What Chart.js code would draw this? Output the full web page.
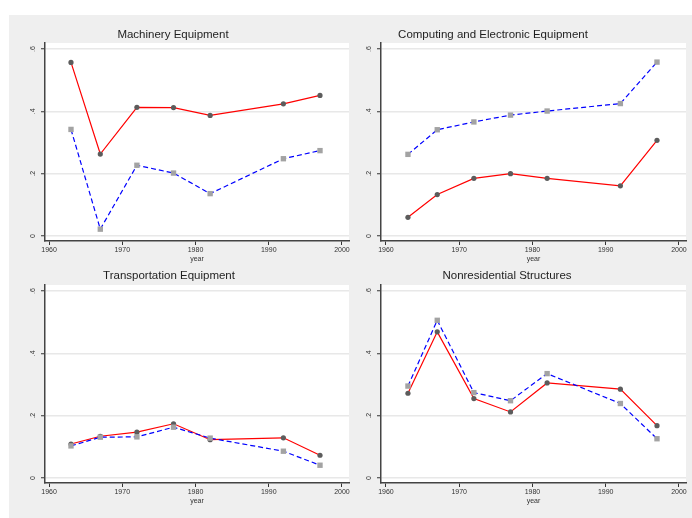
<!DOCTYPE html>
<html>
<head>
<meta charset="utf-8">
<script src="https://cdn.jsdelivr.net/npm/chart.js@4.4.1/dist/chart.umd.min.js"></script>
<style>
  html, body { margin: 0; padding: 0; background: #fff; }
  #page { position: relative; width: 692px; height: 518px; overflow: hidden; }
  #bg { position: absolute; left: 9px; top: 15px; right: 0; bottom: 0; background: #efefef; }
  canvas { position: absolute; left: 0; top: 0; }
</style>
</head>
<body>
<div id="page">
  <div id="bg"></div>
  <canvas id="c1" width="692" height="518"></canvas>
  <canvas id="c2" width="692" height="518"></canvas>
  <canvas id="c3" width="692" height="518"></canvas>
  <canvas id="c4" width="692" height="518"></canvas>
</div>
<script>
// --- DATA ---
const years = [1963, 1967, 1972, 1977, 1982, 1992, 1997];
const xTicks = [1960, 1970, 1980, 1990, 2000];
const yTicks = [0, 0.2, 0.4, 0.6];
const yTickLabels = ['0', '.2', '.4', '.6'];

const machineryRed = [0.557, 0.263, 0.413, 0.412, 0.387, 0.424, 0.451];
const machineryBlue = [0.342, 0.022, 0.227, 0.202, 0.136, 0.248, 0.274];

const computingRed = [0.060, 0.133, 0.185, 0.200, 0.185, 0.161, 0.307];
const computingBlue = [0.262, 0.341, 0.366, 0.388, 0.401, 0.425, 0.558];

const transportRed = [0.109, 0.134, 0.147, 0.174, 0.123, 0.129, 0.073];
const transportBlue = [0.103, 0.131, 0.132, 0.163, 0.128, 0.086, 0.041];

const structuresRed = [0.272, 0.469, 0.255, 0.212, 0.305, 0.285, 0.168];
const structuresBlue = [0.295, 0.506, 0.274, 0.248, 0.335, 0.239, 0.126];

// --- LAYOUT ---
const W = 692, H = 518;
const Y_AXIS_W = 20, X_AXIS_H = 24;
const FONT = '"Liberation Sans", Arial, Helvetica, sans-serif';

const panels = [
    { id: 'c1', title: 'Machinery Equipment', red: machineryRed, blue: machineryBlue,
      left: 45, right: 349, top: 43, bottom: 241, xMin: 1959.45, titleX: 173, titleY: 35 },
    { id: 'c2', title: 'Computing and Electronic Equipment', red: computingRed, blue: computingBlue,
      left: 381, right: 686, top: 43, bottom: 241, xMin: 1959.32, titleX: 493, titleY: 35 },
    { id: 'c3', title: 'Transportation Equipment', red: transportRed, blue: transportBlue,
      left: 45, right: 349, top: 285, bottom: 483, xMin: 1959.45, titleX: 169, titleY: 276 },
    { id: 'c4', title: 'Nonresidential Structures', red: structuresRed, blue: structuresBlue,
      left: 381, right: 686, top: 285, bottom: 483, xMin: 1959.32, titleX: 507, titleY: 276 },
];

// white plot region behind the lines
const plotBg = {
    id: 'plotBg',
    beforeDraw(chart) {
        const { ctx, chartArea: a } = chart;
        ctx.save();
        ctx.fillStyle = '#ffffff';
        ctx.fillRect(a.left, a.top, a.right - a.left, a.bottom - a.top);
        ctx.restore();
    }
};

// panel title placed like the original
const panelTitle = {
    id: 'panelTitle',
    afterDraw(chart, args, opts) {
        const ctx = chart.ctx;
        ctx.save();
        ctx.font = '11.5px ' + FONT;
        ctx.fillStyle = '#1e1e1e';
        ctx.textAlign = 'center';
        ctx.textBaseline = 'middle';
        ctx.fillText(opts.text, opts.x, opts.y);
        ctx.restore();
    }
};

function makeChart(p) {
    const toPoints = arr => years.map((yr, i) => ({ x: yr, y: arr[i] }));
    return new Chart(document.getElementById(p.id), {
        type: 'line',
        data: {
            datasets: [
                {
                    label: 'solid',
                    data: toPoints(p.red),
                    borderColor: '#ff0000',
                    borderWidth: 1.2,
                    pointStyle: 'circle',
                    pointRadius: 2.6,
                    pointBackgroundColor: '#5c5c5c',
                    pointBorderWidth: 0,
                    order: 2
                },
                {
                    label: 'dashed',
                    data: toPoints(p.blue),
                    borderColor: '#0000ff',
                    borderWidth: 1.2,
                    borderDash: [5, 3],
                    pointStyle: 'rect',
                    pointRadius: 3.8,
                    pointBackgroundColor: '#a3a3a3',
                    pointBorderWidth: 0,
                    order: 1
                }
            ]
        },
        options: {
            responsive: false,
            animation: false,
            devicePixelRatio: 1,
            layout: {
                padding: { left: p.left - Y_AXIS_W, right: W - p.right, top: p.top, bottom: H - p.bottom - X_AXIS_H }
            },
            elements: { line: { tension: 0, fill: false } },
            plugins: {
                legend: { display: false },
                tooltip: { enabled: false },
                panelTitle: { text: p.title, x: p.titleX, y: p.titleY }
            },
            scales: {
                x: {
                    type: 'linear',
                    min: p.xMin,
                    max: 2000.96,
                    afterBuildTicks: s => { s.ticks = xTicks.map(v => ({ value: v })); },
                    afterFit: s => { s.height = X_AXIS_H; },
                    grid: { drawOnChartArea: false, tickLength: 4, tickColor: '#333', tickWidth: 1 },
                    border: { color: '#444', width: 1.5 },
                    ticks: { autoSkip: false, maxRotation: 0, padding: 1, color: '#333',
                             font: { family: FONT, size: 7 }, callback: v => String(v) },
                    title: { display: true, text: 'year', color: '#333',
                             font: { family: FONT, size: 7 }, padding: { top: 0, bottom: 2 } }
                },
                y: {
                    min: -0.016,
                    max: 0.6193,
                    afterBuildTicks: s => { s.ticks = yTicks.map(v => ({ value: v })); },
                    afterFit: s => { s.width = Y_AXIS_W; },
                    grid: { color: '#e8e8e8', lineWidth: 1.5, tickLength: 4, tickColor: '#333', tickWidth: 1 },
                    border: { color: '#444', width: 1.5 },
                    ticks: { minRotation: 90, maxRotation: 90, crossAlign: 'center', padding: 5, color: '#333',
                             font: { family: FONT, size: 7 }, callback: (v, i) => yTickLabels[i] }
                }
            }
        },
        plugins: [plotBg, panelTitle]
    });
}

panels.forEach(makeChart);
</script>
</body>
</html>
